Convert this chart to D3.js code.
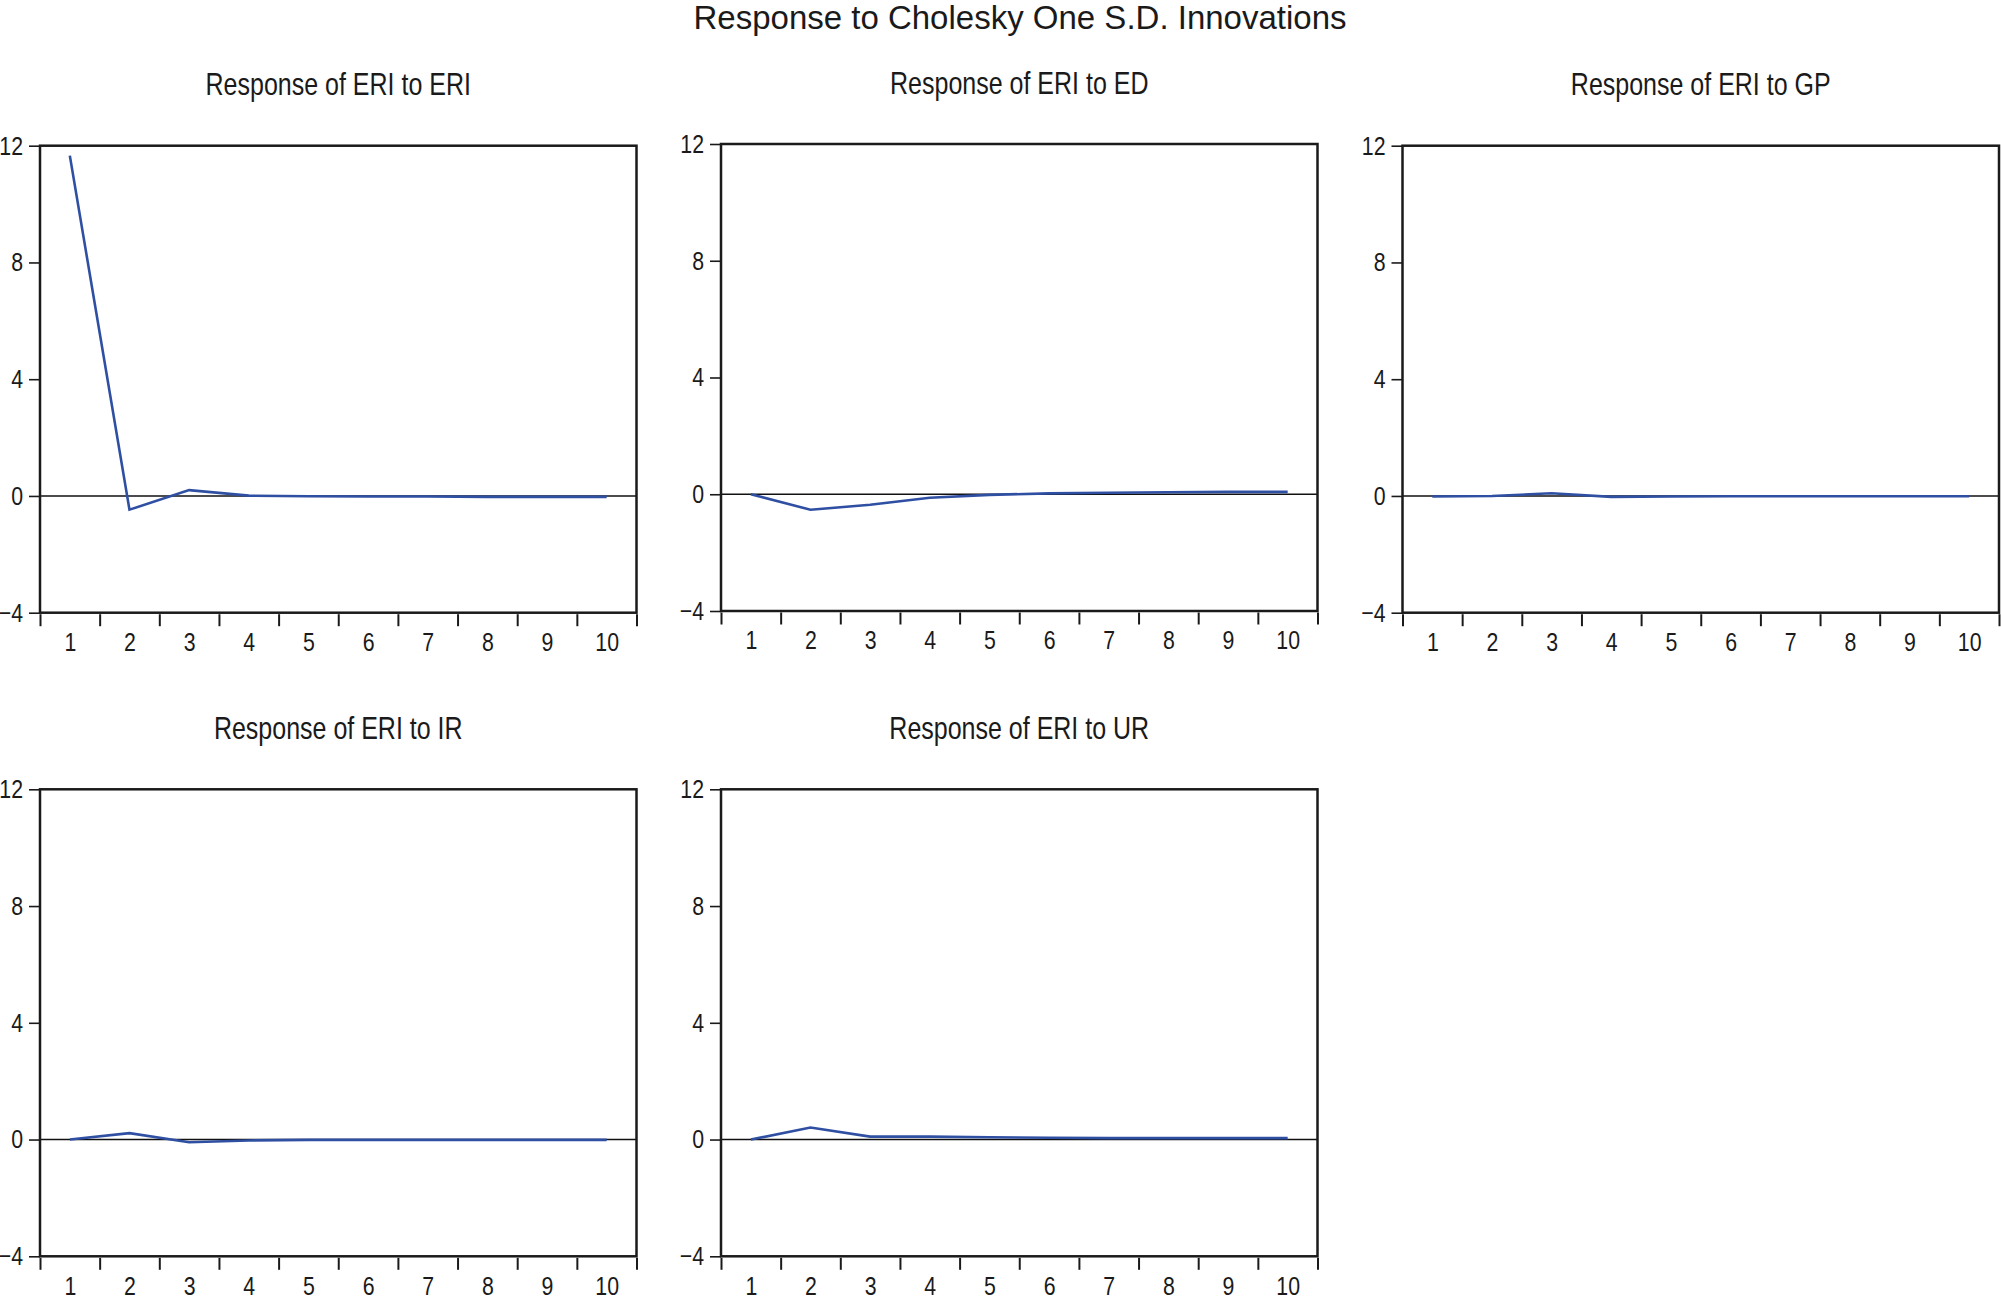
<!DOCTYPE html>
<html>
<head>
<meta charset="utf-8">
<script src="https://cdn.jsdelivr.net/npm/d3@7"></script>
<style>
  body { margin: 0; background: #fff; }
  text { font-family: 'Liberation Sans', Arial, sans-serif; fill: #1a1a1a; }
</style>
</head>
<body>
<svg id="chart" width="2001" height="1304"></svg>
<script>
// impulse responses, periods 1..10
var periods = [1, 2, 3, 4, 5, 6, 7, 8, 9, 10];
var eriToEri = [11.66, -0.47, 0.20, 0.01, -0.01, -0.02, -0.02, -0.03, -0.03, -0.03];
var eriToEd  = [0.00, -0.53, -0.36, -0.12, -0.02, 0.03, 0.05, 0.07, 0.08, 0.08];
var eriToGp  = [-0.02, 0.00, 0.09, -0.03, -0.02, -0.01, -0.01, -0.01, -0.01, -0.01];
var eriToIr  = [0.00, 0.22, -0.09, -0.03, -0.01, -0.01, -0.01, -0.01, -0.01, -0.01];
var eriToUr  = [0.00, 0.41, 0.10, 0.10, 0.08, 0.06, 0.05, 0.05, 0.05, 0.05];

var panelTitles = ["Response of ERI to ERI", "Response of ERI to ED", "Response of ERI to GP",
                   "Response of ERI to IR", "Response of ERI to UR"];
var panelSeries = [eriToEri, eriToEd, eriToGp, eriToIr, eriToUr];
var yTicks = [-4, 0, 4, 8, 12];
var mainTitle = "Response to Cholesky One S.D. Innovations";

// where each panel box sits
var layout = [
  {left: 40,    top: 145.7},
  {left: 721,   top: 144},
  {left: 1402.5,top: 145.7},
  {left: 40,    top: 789.3},
  {left: 721,   top: 789.3}
];
var boxW = 596.5, boxH = 467;
var lineColor = "#2f4fa3";
var squeeze = 0.82; // no narrow face installed, so squash the regular one

var svg = d3.select("#chart");

svg.append("text")
  .attr("x", 1020).attr("y", 29)
  .attr("text-anchor", "middle")
  .style("font-size", "33px")
  .text(mainTitle);

// move x/y into a transform so the text can be squeezed sideways
function narrow(sel){
  sel.each(function(){
    var t = d3.select(this);
    var tx = +t.attr("x") || 0, ty = +t.attr("y") || 0;
    t.attr("x", 0).attr("y", 0)
     .attr("transform", "translate(" + tx + "," + ty + ") scale(" + squeeze + ",1)");
  });
}

function drawPanel(i){
  var pos = layout[i];
  var g = svg.append("g").attr("transform", "translate(" + pos.left + "," + pos.top + ")");

  var x = d3.scaleLinear().domain([0.5, 10.5]).range([0, boxW]);
  var y = d3.scaleLinear().domain([-4, 12]).range([boxH, 0]);

  g.append("text")
    .attr("x", boxW / 2).attr("y", -50.5)
    .attr("text-anchor", "middle")
    .style("font-size", "30.5px")
    .text(panelTitles[i])
    .call(narrow);

  // y axis ticks + labels
  var yAxis = g.append("g").call(d3.axisLeft(y).tickValues(yTicks).tickSize(11).tickPadding(6).tickFormat(d3.format("d")));
  yAxis.select(".domain").remove();
  yAxis.selectAll("line").attr("stroke", "#1a1a1a").attr("stroke-width", 1.6);
  yAxis.selectAll("text").style("font-size", "26px").attr("fill", "#1a1a1a").call(narrow);

  // x axis: ticks on the period boundaries, labels in the middle
  var bounds = d3.range(0.5, 11, 1);
  var xTicks = g.append("g").attr("transform", "translate(0," + (boxH + 1.5) + ")")
    .call(d3.axisBottom(x).tickValues(bounds).tickSize(12).tickFormat(""));
  xTicks.select(".domain").remove();
  xTicks.selectAll("line").attr("stroke", "#1a1a1a").attr("stroke-width", 2);

  var xLabels = g.append("g").attr("transform", "translate(0," + boxH + ")")
    .call(d3.axisBottom(x).tickValues(periods).tickSize(0).tickPadding(20).tickFormat(d3.format("d")));
  xLabels.select(".domain").remove();
  xLabels.selectAll("text").style("font-size", "26px").attr("fill", "#1a1a1a").call(narrow);

  // zero line
  g.append("line")
    .attr("x1", 0).attr("x2", boxW)
    .attr("y1", y(0)).attr("y2", y(0))
    .attr("stroke", "#111").attr("stroke-width", 1.6);

  var line = d3.line()
    .x(function(d, k){ return x(periods[k]); })
    .y(function(d){ return y(d); });

  g.append("path")
    .datum(panelSeries[i])
    .attr("d", line)
    .attr("fill", "none")
    .attr("stroke", lineColor)
    .attr("stroke-width", 2.6);

  g.append("rect")
    .attr("width", boxW).attr("height", boxH)
    .attr("fill", "none")
    .attr("stroke", "#1a1a1a")
    .attr("stroke-width", 2.5);
}

for (var i = 0; i < panelSeries.length; i++) drawPanel(i);
</script>
</body>
</html>
